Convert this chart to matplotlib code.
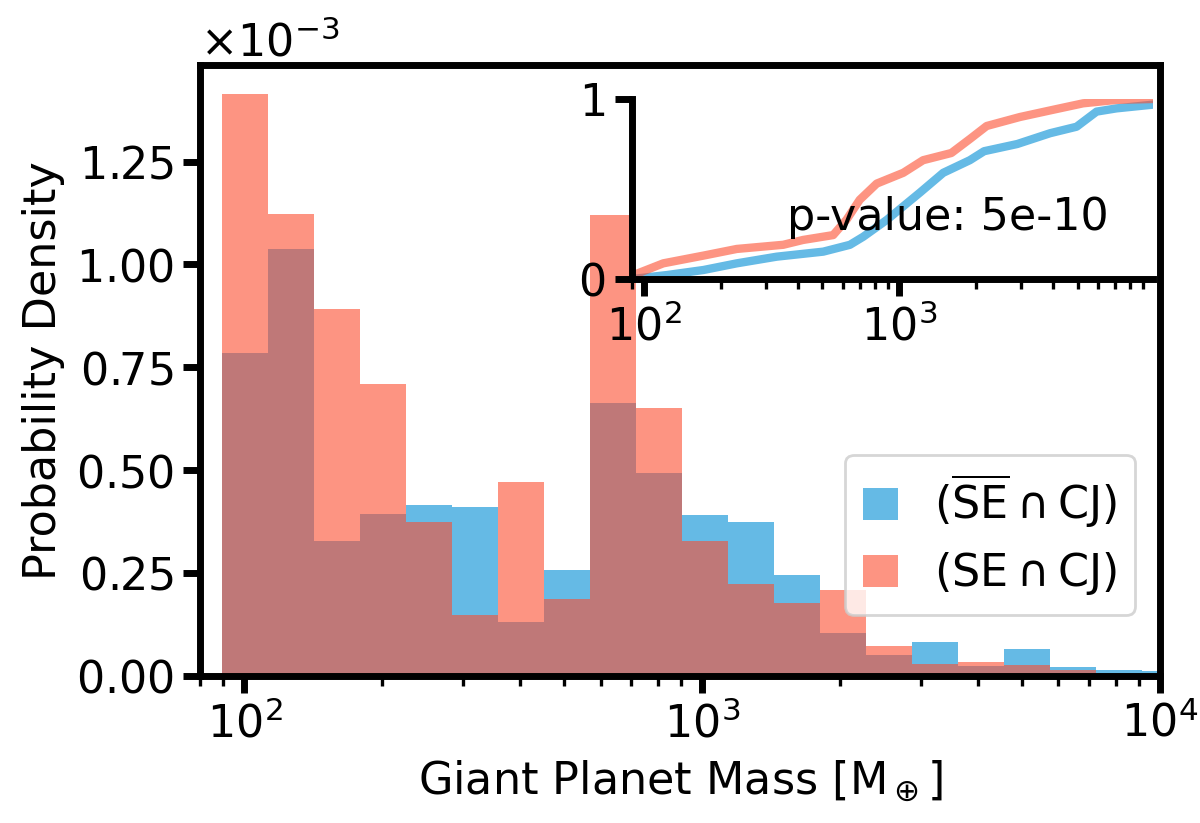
import numpy as np
import matplotlib
matplotlib.use("Agg")
import matplotlib.pyplot as plt

# histogram bins: 0.1 dex wide, starting at the smallest mass
log_edge_start = 1.952
bin_dex = 0.1004
n_bins = 21

# probability density (units of 1e-3) per bin
dens_not_se = [0.784, 1.037, 0.328, 0.392, 0.414, 0.411, 0.130, 0.258, 0.662, 0.493, 0.390,
               0.373, 0.245, 0.103, 0.050, 0.081, 0.023, 0.065, 0.022, 0.014, 0.011]
dens_se = [1.414, 1.123, 0.891, 0.708, 0.374, 0.147, 0.472, 0.186, 1.120, 0.652, 0.328,
           0.223, 0.176, 0.209, 0.073, 0.027, 0.034, 0.026, 0.013, 0.0, 0.0]

# cumulative distributions for the inset
cdf_mass_not_se = [90, 123, 171, 231, 331, 504, 641, 723, 893, 1205, 1487, 1890, 2150,
                   2900, 3900, 4950, 5930, 7100, 9600]
cdf_not_se = [0.0, 0.022, 0.05, 0.087, 0.124, 0.152, 0.19, 0.235, 0.328, 0.48, 0.59, 0.66,
              0.71, 0.75, 0.81, 0.846, 0.93, 0.948, 0.967]
cdf_mass_se = [90, 94, 119, 171, 231, 351, 420, 551, 622, 700, 816, 1037, 1240, 1600, 1900,
               2200, 2970, 4000, 5250, 7100, 9800]
cdf_se = [0.0, 0.03, 0.087, 0.13, 0.167, 0.19, 0.217, 0.244, 0.33, 0.44, 0.53, 0.59, 0.66,
          0.70, 0.78, 0.85, 0.90, 0.94, 0.976, 0.995, 1.0]

p_value = "5e-10"
labels = [r'$(\overline{\rm SE} \cap {\rm CJ})$', r'$({\rm SE} \cap {\rm CJ})$']

blue = '#65bae5'
red = '#fd4d2f'
red_alpha = 0.6

plt.rcParams['font.family'] = ['DejaVu Sans']
plt.rcParams['font.size'] = 16
plt.rcParams['axes.formatter.use_mathtext'] = True
plt.rcParams['axes.linewidth'] = 2.5
for a in ['xtick', 'ytick']:
    plt.rcParams[a + '.major.width'] = 2.5
    plt.rcParams[a + '.major.size'] = 6
    plt.rcParams[a + '.minor.width'] = 1.2
    plt.rcParams[a + '.minor.size'] = 3.5

edges = 10 ** (log_edge_start + bin_dex * np.arange(n_bins + 1))
centers = np.sqrt(edges[:-1] * edges[1:])

fig = plt.figure(figsize=(6, 4.115), dpi=200)
ax = fig.add_axes([0.1667, 0.1791, 0.8, 0.7419])

ax.hist(centers, bins=edges, weights=np.array(dens_not_se) * 1e-3, color=blue, label=labels[0])
ax.hist(centers, bins=edges, weights=np.array(dens_se) * 1e-3, color=red, alpha=red_alpha,
        label=labels[1])
ax.set_xscale('log')
ax.set_xlim(80, 1e4)
ax.set_ylim(0, 1.485e-3)
ax.set_yticks(np.arange(0, 1.3e-3, 0.25e-3))
ax.ticklabel_format(axis='y', style='sci', scilimits=(0, 0))
ax.set_xlabel(r'Giant Planet Mass [M$_\oplus$]')
ax.set_ylabel('Probability Density')
ax.legend(loc='lower right', bbox_to_anchor=(0.974, 0.099), borderaxespad=0,
          handlelength=0.8, handleheight=0.75, labelspacing=0.45)

# inset with the cumulative distributions
ins = fig.add_axes([0.5264, 0.661, 0.4344, 0.2187])
ins.plot(cdf_mass_not_se, cdf_not_se, color=blue, lw=3)
ins.plot(cdf_mass_se, cdf_se, color=red, alpha=red_alpha, lw=3)
ins.set_xscale('log')
ins.set_xlim(89.5, 9860)
ins.set_ylim(0, 1)
ins.set_yticks([0, 1])
ins.spines['top'].set_visible(False)
ins.spines['right'].set_visible(False)
ins.text(0.297, 0.272, 'p-value: ' + p_value, transform=ins.transAxes, va='baseline')

fig.savefig('out.png', dpi=200)
